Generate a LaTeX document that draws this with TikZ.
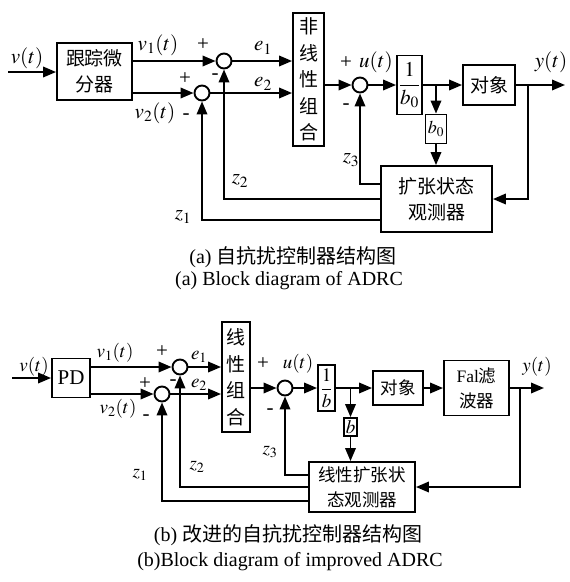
\documentclass[tikz,border=0pt]{standalone}
\usepackage{mathptmx}
\usepackage{fontspec}
\setmainfont{Liberation Serif}
\newfontfamily\cjk{Noto Sans CJK SC}
\usetikzlibrary{arrows.meta}

\begin{document}
\begin{tikzpicture}[x=1pt,y=-1pt,line width=1.9pt,
  font=\fontsize{21}{24}\selectfont,
  blk/.style={draw,align=center,inner sep=0pt},
  cn/.style={font=\cjk\fontsize{19}{26.5}\selectfont},
  cnb/.style={font=\cjk\fontsize{17.5}{25}\selectfont},
  sum/.style={draw,circle,minimum size=15pt,inner sep=0pt},
  arr/.style={-{Triangle[length=13pt,width=10.5pt]}},
  small/.style={font=\fontsize{19}{22}\selectfont}]
\useasboundingbox (0,0) rectangle (570,582);

% (a) ADRC
% blocks
\node[blk,cn,minimum width=75pt,minimum height=57pt] (td) at (94.5,71.5) {跟踪微\\分器};
\node[sum] (s1) at (224,61) {};
\node[sum] (s2) at (202,93) {};
\node[blk,cn,minimum width=31pt,minimum height=133pt] (nl) at (308.5,79.5) {非\\线\\性\\组\\合};
\node[sum] (s3) at (360,85) {};
\node[blk,minimum width=25pt,minimum height=59pt] (ga) at (409.5,85) {$\displaystyle\frac{1}{b_0}$};
\node[blk,cn,minimum width=52pt,minimum height=40pt] (pa) at (489,85) {对象};
\node[blk,font=\fontsize{18}{20}\selectfont,minimum width=21pt,minimum height=29pt] (ba) at (436,129) {$b_0$};
\node[blk,cn,minimum width=111pt,minimum height=66pt] (esoa) at (436.5,199) {扩张状态\\观测器};
\coordinate (ina) at (8,72);
\coordinate (bra) at (436,85);
\coordinate (outa) at (565,85);
\coordinate (yba) at (528,85);
% forward path
\draw[arr] (ina) -- (ina -| td.west);
\draw[arr] (td.east |- s1) -- (s1);
\draw[arr] (td.east |- s2) -- (s2);
\draw[arr] (s1) -- (s1 -| nl.west);
\draw[arr] (s2) -- (s2 -| nl.west);
\draw[arr] (nl.east |- s3) -- (s3);
\draw[arr] (s3) -- (s3 -| ga.west);
\draw[arr] (ga.east |- pa) -- (pa.west);
\draw[arr] (bra) -- (ba.north);
\draw[arr] (ba.south) -- (ba.south |- esoa.north);
\draw[arr] (pa.east) -- (outa);
\draw[arr] (yba) |- (esoa.east);
% feedback z1 z2 z3
\draw[arr] ([yshift=15pt]esoa.west) -| (s3);
\draw[arr] (esoa.west) -| (s1);
\draw[arr] ([yshift=-21pt]esoa.west) -| (s2);
% labels
\node (lva) at (27,58) {$v(t)$};
\node (lva1) at (158,45) {$v_1(t)$};
\node (lva2) at (155,113) {$v_2(t)$};
\node (lea1) at (263,48) {$e_1$};
\node (lea2) at (263,84) {$e_2$};
\node (lua) at (376,62) {$u(t)$};
\node (lya) at (551,62) {$y(t)$};
\node (lza3) at (351,160) {$z_3$};
\node (lza2) at (240,181) {$z_2$};
\node (lza1) at (183,217) {$z_1$};
\foreach \p/\s [count=\i] in {(203,45)/+,(185,79)/+,(346,63)/+,(215,77)/-,(186,117)/-,(346,107)/-}
  \node (sga\i) at \p {\s};
\node[font=\fontsize{20}{24}\selectfont] (capa) at (293,257) {(a) {\cjk 自抗扰控制器结构图}};
\node[font=\fontsize{20}{24}\selectfont] (capae) at (289,281) {(a) Block diagram of ADRC};

% (b) improved ADRC
% blocks
\node[blk,minimum width=38pt,minimum height=39pt] (pd) at (71,378) {PD};
\node[sum] (s4) at (180,367) {};
\node[sum] (s5) at (162,394) {};
\node[blk,cn,minimum width=28pt,minimum height=110pt] (lc) at (236,377) {线\\性\\组\\合};
\node[sum] (s6) at (285,388) {};
\node[blk,small,minimum width=17pt,minimum height=46pt] (gb) at (326.5,388) {$\displaystyle\frac{1}{b}$};
\node[blk,small,minimum width=13pt,minimum height=18pt] (bb) at (350.5,427) {$b$};
\node[blk,cnb,minimum width=50pt,minimum height=34pt] (pb) at (398,388) {对象};
\node[blk,cnb,minimum width=65pt,minimum height=55pt] (fal) at (476.5,388) {{\rmfamily Fal}滤\\波器};
\node[blk,cnb,minimum width=106pt,minimum height=50pt] (esob) at (362,487) {线性扩张状\\态观测器};
\coordinate (inb) at (12,378);
\coordinate (brb) at (350.5,388);
\coordinate (outb) at (544,388);
\coordinate (ybb) at (520,388);
% forward path
\draw[arr] (inb) -- (inb -| pd.west);
\draw[arr] (pd.east |- s4) -- (s4);
\draw[arr] (pd.east |- s5) -- (s5);
\draw[arr] (s4) -- (s4 -| lc.west);
\draw[arr] (s5) -- (s5 -| lc.west);
\draw[arr] (lc.east |- s6) -- (s6);
\draw[arr] (s6) -- (s6 -| gb.west);
\draw[arr] (gb.east |- pb) -- (pb.west);
\draw[arr] (brb) -- (bb.north);
\draw[arr] (bb.south) -- (bb.south |- esob.north);
\draw[arr] (pb.east) -- (fal.west);
\draw[arr] (fal.east) -- (outb);
\draw[arr] (ybb) |- (esob.east);
% feedback z1 z2 z3
\draw[arr] ([yshift=12pt]esob.west) -| (s6);
\draw[arr] (esob.west) -| (s4);
\draw[arr] ([yshift=-14pt]esob.west) -| (s5);
% labels
\node[small] (lvb) at (34,367) {$v(t)$};
\node[small] (lvb1) at (115,353) {$v_1(t)$};
\node[small] (lvb2) at (118,409) {$v_2(t)$};
\node[small] (leb1) at (199,357) {$e_1$};
\node[small] (leb2) at (199,385) {$e_2$};
\node[small] (lub) at (298,364) {$u(t)$};
\node[small] (lyb) at (537,367) {$y(t)$};
\node[small] (lzb3) at (270,452) {$z_3$};
\node[small] (lzb2) at (197,467) {$z_2$};
\node[small] (lzb1) at (140,475) {$z_1$};
\foreach \p/\s [count=\i] in {(162,352)/+,(145,384)/+,(263,364)/+,(173,383)/-,(146,418)/-,(270,412)/-}
  \node (sgb\i) at \p {\s};
\node[font=\fontsize{20}{24}\selectfont] (capb) at (288,535) {(b) {\cjk 改进的自抗扰控制器结构图}};
\node[font=\fontsize{20}{24}\selectfont] (capbe) at (290,562) {(b)Block diagram of improved ADRC};
\end{tikzpicture}
\end{document}
